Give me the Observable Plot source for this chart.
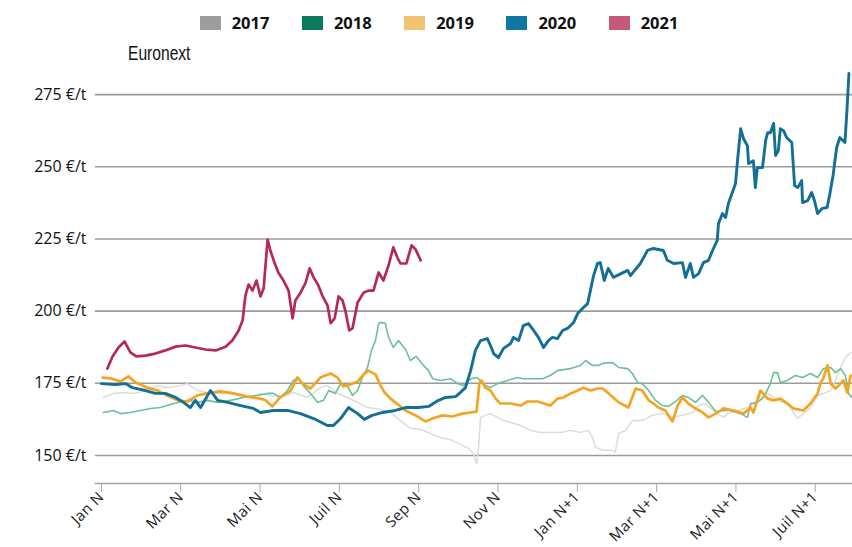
<!DOCTYPE html>
<html>
<head>
<meta charset="utf-8">
<script src="https://cdn.jsdelivr.net/npm/d3@7"></script>
<script src="https://cdn.jsdelivr.net/npm/@observablehq/plot@0.6"></script>
<style>
  body { margin: 0; background: #fff; width: 852px; }
  #legend { box-sizing: border-box; height: 40px; padding-top: 5px; display: flex; align-items: center; justify-content: center; padding-left: 26px; gap: 32.5px; font: 700 16.5px 'Open Sans', sans-serif; color: #111; }
  .item { display: flex; align-items: center; }
  .sw { width: 21px; height: 14px; margin-right: 11px; }
  #src { height: 28px; position: relative; }
  #src span { position: absolute; left: 128px; top: 2px; font: 500 20px 'Liberation Sans', 'DejaVu Sans', sans-serif; color: #111; transform: scaleX(0.78); transform-origin: left center; white-space: nowrap; }
  #chart g[aria-label="x-axis tick label"] { font-size: 15px; letter-spacing: 0.4px; }
  #chart g[aria-label="y-axis tick label"] { font-size: 16px; }
</style>
</head>
<body>
<div id="legend"></div>
<div id="src"><span>Euronext</span></div>
<div id="chart"></div>
<script>
// ---- data (x: months since January of year N, y: €/t) ----
const years = ["2017", "2018", "2019", "2020", "2021"];
const xTicks = [0, 2, 4, 6, 8, 10, 12, 14, 16, 18];
const xLabels = ["Jan N", "Mar N", "Mai N", "Juil N", "Sep N", "Nov N", "Jan N+1", "Mar N+1", "Mai N+1", "Juil N+1"];
const yTicks = [150, 175, 200, 225, 250, 275];

const months2017 = [0.05,0.30,0.55,0.81,1.16,1.41,1.66,1.99,2.17,2.42,2.67,3.00,3.33,3.68,4.01,4.26,4.51,4.84,5.20,5.52,5.70,5.95,6.20,6.46,6.71,7.04,7.29,7.54,7.79,8.05,8.30,8.55,8.80,9.00,9.26,9.38,9.46,9.51,9.56,9.68,9.81,9.99,10.14,10.32,10.57,10.82,11.07,11.32,11.58,11.83,12.08,12.28,12.38,12.46,12.64,12.89,12.96,13.04,13.22,13.39,13.64,13.89,14.15,14.40,14.65,14.91,15.06,15.23,15.49,15.69,15.79,16.04,16.29,16.44,16.62,16.80,17.05,17.30,17.55,17.70,17.88,18.06,18.21,18.39,18.51,18.64,18.76,18.89];
const price2017 = [170.1,171.5,171.8,171.5,172.5,174.2,173.5,174.2,174.9,172.5,171.8,171.5,171.5,170.1,171.5,170.8,170.1,171.8,170.1,173.5,174.2,171.5,170.1,168.4,166.6,165.9,164.9,162.1,159.4,159.0,157.6,156.2,155.5,154.2,152.4,150.7,147.2,152.8,163.2,163.9,164.5,163.2,162.1,161.4,160.4,158.7,158.0,158.0,158.0,158.7,158.0,158.7,156.3,152.8,151.8,151.8,151.1,157.6,158.7,162.1,162.1,163.9,164.5,163.2,163.9,164.9,167.3,168.0,164.9,163.2,164.5,165.6,166.6,168.0,170.1,171.5,169.1,168.0,162.8,164.5,166.6,170.8,171.5,172.5,176.0,180.5,183.9,185.7];

const months2018 = [0.05,0.30,0.48,0.73,0.98,1.24,1.49,1.82,2.17,2.42,2.67,2.93,3.25,3.58,3.93,4.19,4.34,4.51,4.69,4.84,4.97,5.09,5.27,5.45,5.60,5.73,5.90,6.03,6.20,6.33,6.46,6.58,6.71,6.81,6.91,6.99,7.04,7.16,7.24,7.36,7.49,7.67,7.79,7.94,8.12,8.25,8.35,8.55,8.80,8.98,9.13,9.31,9.48,9.61,9.81,9.99,10.24,10.49,10.64,10.90,11.12,11.32,11.50,11.83,12.08,12.21,12.38,12.53,12.64,12.89,13.04,13.27,13.39,13.52,13.64,13.80,13.97,14.15,14.30,14.48,14.65,14.80,14.98,15.16,15.31,15.49,15.69,15.86,16.12,16.29,16.37,16.54,16.70,16.87,16.95,17.05,17.12,17.30,17.50,17.68,17.88,18.06,18.21,18.39,18.51,18.64,18.76,18.84,18.92];
const price2018 = [164.9,165.6,164.5,164.9,165.6,166.3,166.6,168.0,169.1,168.4,169.1,168.4,169.1,170.1,170.8,171.5,171.5,170.1,172.5,176.0,177.0,174.2,171.5,168.4,169.1,172.5,171.5,174.9,174.2,170.8,172.5,177.0,180.5,186.4,189.8,195.7,196.1,195.7,190.9,187.4,189.8,186.7,182.9,184.3,181.2,179.4,176.6,176.0,176.6,174.9,174.2,176.6,177.0,174.9,173.5,174.9,176.0,177.0,176.6,176.6,176.6,177.7,179.4,180.1,181.2,182.9,181.2,181.2,181.9,182.2,180.5,180.1,178.4,175.3,174.9,172.5,169.1,167.3,167.0,168.7,170.8,170.1,168.4,170.8,168.4,165.2,165.6,165.6,164.5,163.2,168.0,168.4,170.1,174.9,178.7,178.7,175.3,176.0,177.7,177.0,178.4,177.0,180.1,180.5,178.7,180.1,177.7,171.5,170.1];

const months2019 = [0.03,0.23,0.48,0.68,0.86,1.16,1.41,1.66,1.92,2.17,2.42,2.67,3.00,3.33,3.68,4.01,4.14,4.31,4.51,4.77,4.94,5.07,5.27,5.52,5.78,5.95,6.10,6.28,6.46,6.61,6.73,6.91,7.04,7.14,7.29,7.47,7.67,7.92,8.17,8.35,8.60,8.85,9.10,9.31,9.46,9.53,9.58,9.68,9.81,9.94,10.06,10.32,10.57,10.74,11.00,11.32,11.50,11.65,11.83,12.01,12.16,12.33,12.51,12.64,12.79,13.04,13.29,13.47,13.64,13.80,13.92,14.05,14.22,14.40,14.53,14.65,14.80,14.98,15.16,15.31,15.49,15.69,15.94,16.19,16.37,16.44,16.62,16.80,16.95,17.12,17.30,17.45,17.70,17.88,18.06,18.13,18.21,18.31,18.39,18.51,18.59,18.71,18.81,18.89];
const price2019 = [177.0,176.7,175.6,177.4,175.3,173.5,172.5,170.8,169.1,168.7,170.8,171.5,172.2,171.5,170.4,169.7,169.1,167.0,170.1,172.5,177.0,174.9,173.2,177.0,178.4,177.0,173.9,174.6,175.6,178.1,179.4,178.1,174.2,171.8,169.7,167.7,165.6,163.9,161.8,162.8,163.9,163.5,164.5,164.9,165.2,174.9,176.0,173.5,172.5,169.7,168.0,168.0,167.3,168.7,168.7,167.3,169.7,170.1,171.5,172.5,173.5,172.5,173.2,173.2,171.5,168.4,166.6,173.2,172.5,169.1,168.0,166.6,165.6,161.8,167.3,170.1,168.0,166.3,164.9,163.2,164.5,166.3,165.6,164.5,166.6,164.9,172.5,169.7,169.1,169.7,168.0,166.3,165.6,168.0,171.5,174.9,177.0,181.2,174.9,173.2,174.2,176.0,171.8,177.7];

const months2020 = [0,0.35,0.61,0.78,1.11,1.36,1.61,1.87,2.07,2.24,2.37,2.50,2.75,2.93,3.18,3.51,3.83,4.01,4.34,4.69,5.02,5.35,5.70,5.85,6.03,6.23,6.46,6.63,6.81,7.09,7.41,7.67,8.00,8.25,8.50,8.68,8.93,9.05,9.18,9.31,9.43,9.56,9.73,9.81,9.89,10.01,10.14,10.32,10.39,10.52,10.64,10.77,10.90,11.02,11.15,11.27,11.37,11.50,11.63,11.75,11.83,11.91,12.01,12.13,12.26,12.33,12.41,12.51,12.58,12.68,12.78,12.91,13.27,13.34,13.59,13.77,13.92,14.17,14.27,14.43,14.65,14.73,14.85,14.93,15.06,15.18,15.31,15.41,15.53,15.56,15.66,15.74,15.81,15.91,15.99,16.04,16.12,16.19,16.29,16.32,16.44,16.49,16.54,16.67,16.75,16.80,16.87,16.95,17.00,17.07,17.12,17.20,17.28,17.41,17.48,17.56,17.66,17.68,17.81,17.91,17.98,18.06,18.18,18.30,18.37,18.45,18.54,18.62,18.75,18.80,18.85];
const price2020 = [174.9,174.6,174.9,173.5,172.5,171.5,171.5,170.1,168.4,166.6,169.1,166.6,172.5,169.1,168.4,167.3,166.3,164.9,165.6,165.6,164.5,162.8,160.4,160.4,162.8,166.6,164.5,162.5,163.8,164.9,165.6,166.6,166.6,167.0,169.1,170.1,170.4,171.8,173.5,179.4,186.4,189.8,190.5,188.1,185.3,183.9,187.1,188.8,190.9,189.8,195.0,195.7,193.3,190.9,187.4,189.8,190.9,190.5,193.3,194.0,195.0,196.1,199.2,200.9,202.6,207.1,212.3,216.5,216.8,210.6,214.8,211.7,214.1,212.3,216.5,221.0,221.7,221.0,217.6,216.5,216.8,211.7,216.5,211.7,213.0,216.8,217.6,221.0,224.5,230.3,233.8,232.4,237.3,241.1,244.2,252.1,263.2,259.8,257.3,251.1,252.1,242.8,249.7,249.7,259.1,261.8,261.8,265.0,253.9,255.6,263.2,262.5,260.1,258.4,243.5,242.8,245.2,237.6,238.3,241.1,238.3,233.8,235.6,235.9,240.7,247.0,256.6,260.1,258.4,269.5,282.3];

const months2021 = [0.15,0.28,0.43,0.58,0.73,0.88,1.11,1.36,1.61,1.87,2.12,2.37,2.62,2.88,3.13,3.30,3.46,3.56,3.63,3.71,3.81,3.91,4.01,4.09,4.19,4.26,4.36,4.46,4.59,4.72,4.82,4.89,5.02,5.15,5.25,5.35,5.47,5.57,5.70,5.78,5.88,5.98,6.08,6.15,6.25,6.33,6.46,6.61,6.73,6.86,6.99,7.11,7.24,7.36,7.47,7.54,7.69,7.82,7.92,8.05];
const price2021 = [180.1,184.3,187.4,189.5,185.7,184.3,184.6,185.3,186.4,187.7,188.1,187.4,186.7,186.4,187.7,189.8,193.3,196.8,205.4,209.2,207.1,210.6,205.1,207.8,224.8,221.0,216.9,213.4,210.6,207.1,197.5,203.7,206.4,209.9,214.8,211.7,208.9,205.4,202.0,195.8,197.5,205.1,203.7,200.2,193.3,194.0,203.0,206.4,207.1,207.1,213.4,210.6,215.8,222.1,218.3,216.5,216.5,222.8,221.4,217.6];

// ---- styles ----
const legendColors = ["#9d9d9d", "#0b7a5c", "#f3c46f", "#0f77a3", "#c45a78"];
const lineColors = ["#dcdcdc", "#6cc097", "#f4a424", "#146f96", "#b6285c"];
const lineWidths = [1.5, 1.6, 2.7, 2.9, 2.7];

const seriesData = [
  [months2017, price2017],
  [months2018, price2018],
  [months2019, price2019],
  [months2020, price2020],
  [months2021, price2021]
].map(([m, p], i) => {
  const n = Math.min(m.length, p.length);
  return d3.range(n).map(k => ({year: years[i], month: m[k], price: p[k]}));
});

// legend
const legend = document.getElementById("legend");
years.forEach((y, i) => {
  const it = document.createElement("div");
  it.className = "item";
  it.innerHTML = `<span class="sw" style="background:${legendColors[i]}"></span><span>${y}</span>`;
  legend.appendChild(it);
});

const chart = Plot.plot({
  width: 852,
  height: 479,
  marginTop: 5,
  marginLeft: 95,
  marginRight: 0,
  marginBottom: 64,
  style: {fontFamily: "'Open Sans', sans-serif", background: "#fff", overflow: "visible"},
  x: {type: "linear", domain: [-0.15, 18.94]},
  y: {domain: [140.3, 282.3]},
  marks: [
    Plot.ruleY(yTicks, {stroke: "#9b9b9b", strokeWidth: 1.6}),
    Plot.frame({anchor: "bottom", stroke: "#a3a3a3", strokeWidth: 1.6}),
    Plot.axisY({ticks: yTicks, tickSize: 0, tickPadding: 9, tickFormat: d => `${d} €/t`, label: null, fontSize: 16, fill: "#111"}),
    Plot.axisX({ticks: xTicks, tickFormat: d => xLabels[xTicks.indexOf(d)], tickRotate: -45, tickSize: 9, tickPadding: 2, label: null, fontSize: 15, stroke: "#aaa", fill: "#222"}),
    ...seriesData.map((data, i) => Plot.line(data, {
      x: "month", y: "price",
      stroke: lineColors[i], strokeWidth: lineWidths[i],
      strokeLinejoin: "round", strokeLinecap: "round"
    }))
  ]
});
document.getElementById("chart").appendChild(chart);
</script>
</body>
</html>
